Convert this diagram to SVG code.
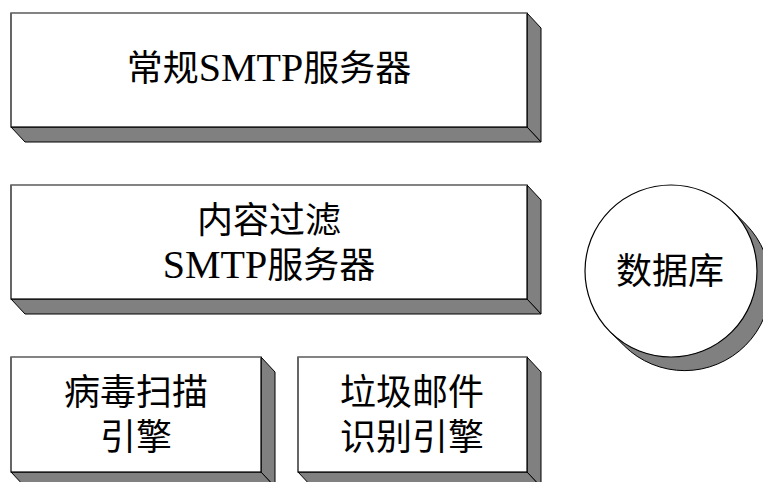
<svg xmlns="http://www.w3.org/2000/svg" width="763" height="482" viewBox="0 0 763 482">
<style>
.face{fill:#ffffff;stroke:#000;stroke-width:1.2}
.top{stroke:#a0a0a0;stroke-width:1.2}
.side{fill:#808080;stroke:#000;stroke-width:1}
.cjk{font-family:"Noto Sans CJK SC","Noto Sans",sans-serif;font-size:36px;fill:#000;text-anchor:middle}
text tspan.lat{font-family:"Liberation Serif","Times New Roman",serif;font-size:40px}
</style>
<rect width="763" height="482" fill="#fff"/>
<g id="node-smtp">
<polygon class="side" points="527,13 541,28 541,142 527,127"/>
<polygon class="side" points="11,127 527,127 541,142 25,142"/>
<rect class="face" x="11" y="13" width="516" height="114"/>
<line class="top" x1="11" y1="13" x2="527" y2="13"/>
<text class="cjk" x="269" y="81">常规<tspan class="lat" style="font-family:'Liberation Serif',serif">SMTP</tspan>服务器</text>
</g>
<g id="node-filter">
<polygon class="side" points="527,185 541,200 541,314 527,299"/>
<polygon class="side" points="11,299 527,299 541,314 25,314"/>
<rect class="face" x="11" y="185" width="516" height="114"/>
<line class="top" x1="11" y1="185" x2="527" y2="185"/>
<text class="cjk" x="269" y="233">内容过滤</text>
<text class="cjk" x="269" y="278"><tspan class="lat" style="font-family:'Liberation Serif',serif">SMTP</tspan>服务器</text>
</g>
<g id="node-virus">
<polygon class="side" points="261,357 275,372 275,487 261,472"/>
<polygon class="side" points="11,472 261,472 275,487 25,487"/>
<rect class="face" x="11" y="357" width="250" height="115"/>
<line class="top" x1="11" y1="357" x2="261" y2="357"/>
<text class="cjk" x="136" y="405">病毒扫描</text>
<text class="cjk" x="136" y="450">引擎</text>
</g>
<g id="node-spam">
<polygon class="side" points="527,357 541,372 541,487 527,472"/>
<polygon class="side" points="298,472 527,472 541,487 312,487"/>
<rect class="face" x="298" y="357" width="229" height="115"/>
<line class="top" x1="298" y1="357" x2="527" y2="357"/>
<text class="cjk" x="412" y="405">垃圾邮件</text>
<text class="cjk" x="412" y="450">识别引擎</text>
</g>
<g id="node-db">
<path class="side" d="M731.81,210.19 L745.81,224.19 A86,86 0 0 1 624.19,345.81 L610.19,331.81 Z"/>
<circle cx="671" cy="271" r="86" fill="#fff" stroke="#000" stroke-width="1.2"/>
<text class="cjk" x="670" y="284">数据库</text>
</g>
<g id="connectors"></g>
</svg>
